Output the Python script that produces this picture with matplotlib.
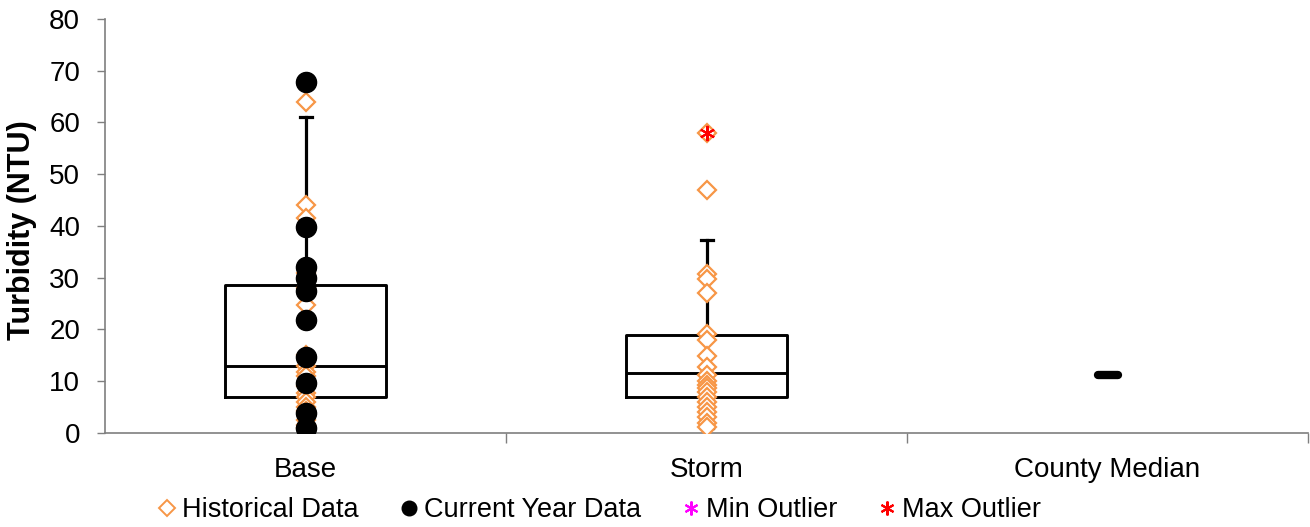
import matplotlib
matplotlib.use("Agg")
import matplotlib.pyplot as plt
from matplotlib.lines import Line2D

plt.rcParams['font.family'] = ['Liberation Sans', 'DejaVu Sans']

# Categories along the x axis
categories = ["Base", "Storm", "County Median"]

# Box statistics (NTU) for the Base and Storm groups
box_q1 = [7.0, 7.0]
box_median = [13.0, 11.6]
box_q3 = [28.6, 18.9]
whisker_low = [0.6, 1.0]
whisker_high = [61.1, 37.2]

# County-wide median turbidity
county_median = 11.3

# Historical samples
base_historical = [64.0, 44.0, 41.6, 31.0, 28.0, 24.8, 15.0, 13.0, 11.8, 11.0,
                   9.0, 7.7, 7.0, 6.0, 5.0, 4.2, 2.5, 1.5, 1.0]
storm_historical = [58.0, 47.0, 30.8, 29.8, 27.0, 19.2, 18.0, 14.8, 12.8, 11.2,
                    10.0, 9.2, 8.6, 8.0, 7.0, 6.0, 5.0, 4.0, 3.0, 2.0, 1.2]

# Current-year samples
base_current = [67.8, 39.8, 32.0, 29.9, 27.4, 21.8, 14.7, 9.6, 3.8, 1.0]
storm_current = []

# Outliers flagged in the record
storm_max_outlier = [58.0]
storm_min_outlier = []

orange = "#F79646"
axis_gray = "#7F7F7F"
fs = 20

fig = plt.figure(figsize=(13.10, 5.27), dpi=100)
ax = fig.add_axes([0.0802, 0.1784, 0.9183, 0.7856])

positions = [0.5, 1.5]
stats = []
for i in range(2):
    stats.append(dict(med=box_median[i], q1=box_q1[i], q3=box_q3[i],
                      whislo=whisker_low[i], whishi=whisker_high[i], fliers=[]))
ax.bxp(stats, positions=positions, widths=0.4, showfliers=False,
       boxprops=dict(color="black", linewidth=2.1),
       medianprops=dict(color="black", linewidth=2.1),
       whiskerprops=dict(color="black", linewidth=2.3),
       capprops=dict(color="black", linewidth=2.3),
       capwidths=0.03, zorder=2)

# County median drawn as a short thick bar
ax.hlines(county_median, 2.5 - 0.025, 2.5 + 0.025, color="black",
          linewidth=6, capstyle="round", zorder=3)

diamond_kw = dict(linestyle="none", marker="D", markersize=9.2,
                  markerfacecolor="white", markeredgecolor=orange,
                  markeredgewidth=1.6, zorder=4)
circle_kw = dict(linestyle="none", marker="o", markersize=14.5,
                 color="black", zorder=5)
star_kw = dict(linestyle="none", marker=(6, 2, 0), markersize=11,
               markeredgewidth=1.5, zorder=6)

ax.plot([positions[0]] * len(base_historical), base_historical, **diamond_kw)
ax.plot([positions[1]] * len(storm_historical), storm_historical, **diamond_kw)
ax.plot([positions[0]] * len(base_current), base_current, **circle_kw)
if storm_current:
    ax.plot([positions[1]] * len(storm_current), storm_current, **circle_kw)
ax.plot([positions[1]] * len(storm_max_outlier), storm_max_outlier,
        color="red", **star_kw)
if storm_min_outlier:
    ax.plot([positions[1]] * len(storm_min_outlier), storm_min_outlier,
            color="magenta", **star_kw)

ax.set_xlim(0, 3)
ax.set_ylim(0, 80)
ax.set_yticks(range(0, 81, 10))
ax.set_xticks([1, 2, 3])
ax.set_xticklabels([])
ax.set_xticks([0.5, 1.5, 2.5], minor=True)
ax.set_xticklabels(categories, minor=True)
ax.tick_params(axis="x", which="minor", length=0, pad=17, labelsize=fs)
ax.tick_params(axis="x", which="major", length=7, width=1, color=axis_gray,
               direction="out")
ax.tick_params(axis="y", length=6, width=1, color=axis_gray, direction="out",
               labelsize=fs, pad=12)

for side in ("top", "right"):
    ax.spines[side].set_visible(False)
for side in ("left", "bottom"):
    ax.spines[side].set_color(axis_gray)
    ax.spines[side].set_linewidth(1.2)

fig.text(22 / 1310, 0.5636, "Turbidity (NTU)", rotation=90, ha="center",
         va="center", fontsize=22, fontweight="bold")

handles = [
    Line2D([], [], linestyle="none", marker="D", markersize=8.5,
           markerfacecolor="white", markeredgecolor=orange, markeredgewidth=1.4),
    Line2D([], [], linestyle="none", marker="o", markersize=10.5, color="black"),
    Line2D([], [], linestyle="none", marker=(6, 2, 0), markersize=10,
           color="magenta", markeredgewidth=1.5),
    Line2D([], [], linestyle="none", marker=(6, 2, 0), markersize=10,
           color="red", markeredgewidth=1.5),
]
labels = ["Historical Data", "Current Year Data", "Min Outlier", "Max Outlier"]
fig.legend(handles, labels, loc="center", bbox_to_anchor=(0.457, 0.032),
           ncol=4, frameon=False, fontsize=19.5, handletextpad=0.15,
           columnspacing=1.45, handlelength=0.8, borderaxespad=0)

fig.savefig("out.png", dpi=100)
